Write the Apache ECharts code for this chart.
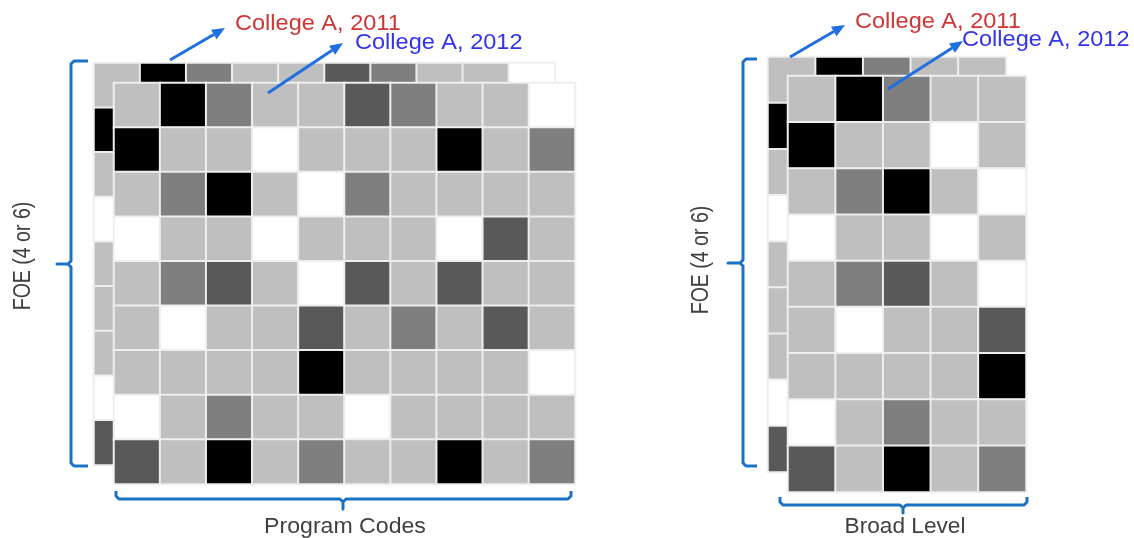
<!DOCTYPE html>
<html><head><meta charset="utf-8">
<script src="https://cdn.jsdelivr.net/npm/echarts@6/dist/echarts.min.js"></script>
<style>html,body{margin:0;padding:0;background:#fff}#c{width:1134px;height:538px}</style>
</head><body><div id="c"></div>
<script>
// shade levels: 0 white, 1 light grey, 2 mid grey, 3 dark grey, 4 black
const programCodes = ['P1','P2','P3','P4','P5','P6','P7','P8','P9','P10'];
const broadLevels = ['B1','B2','B3','B4','B5'];
const foeRows = ['F1','F2','F3','F4','F5','F6','F7','F8','F9'];

const program2012 = [
  [1,4,2,1,1,3,2,1,1,0],
  [4,1,1,0,1,1,1,4,1,2],
  [1,2,4,1,0,2,1,1,1,1],
  [0,1,1,0,1,1,1,0,3,1],
  [1,2,3,1,0,3,1,3,1,1],
  [1,0,1,1,3,1,2,1,3,1],
  [1,1,1,1,4,1,1,1,1,0],
  [0,1,2,1,1,0,1,1,1,1],
  [3,1,4,1,2,1,1,4,1,2]
];
// 2011 layer: only the top row and left column are visible
const program2011Top = [1,4,2,1,1,3,2,1,1,0];
const program2011Left = [1,4,1,0,1,1,1,0,3];

const broad2012 = [
  [1,4,2,1,1],
  [4,1,1,0,1],
  [1,2,4,1,0],
  [0,1,1,0,1],
  [1,2,3,1,0],
  [1,0,1,1,3],
  [1,1,1,1,4],
  [0,1,2,1,1],
  [3,1,4,1,2]
];
const broad2011Top = [1,4,2,1,1];
const broad2011Left = [1,4,1,0,1,1,1,0,3];

const shadeColors = ['#ffffff','#bfbfbf','#7f7f7f','#595959','#000000'];

function fullData(m){const d=[];m.forEach((row,r)=>row.forEach((v,c)=>d.push([c,r,v])));return d;}
function edgeData(top,left){const d=[];top.forEach((v,c)=>d.push([c,0,v]));left.forEach((v,r)=>{if(r>0)d.push([0,r,v]);});return d;}

const grids=[
  {left:94,top:63,width:461,height:402},
  {left:114,top:83,width:461,height:401},
  {left:768,top:57,width:238,height:415},
  {left:788,top:76,width:238,height:416}
];
const xCats=[programCodes,programCodes,broadLevels,broadLevels];
const seriesData=[
  edgeData(program2011Top,program2011Left),
  fullData(program2012),
  edgeData(broad2011Top,broad2011Left),
  fullData(broad2012)
];

const chart=echarts.init(document.getElementById('c'),null,{renderer:'canvas'});

const blueArrow='#1f6fe0', bracket='#1a72c4', labelCol='#404040';
function arrow(x1,y1,x2,y2){
  const a=Math.atan2(y2-y1,x2-x1),L=13,W=5.5;
  const bx=x2-L*Math.cos(a),by=y2-L*Math.sin(a);
  const px=-Math.sin(a)*W,py=Math.cos(a)*W;
  return [
    {type:'line',shape:{x1:x1,y1:y1,x2:bx,y2:by},style:{stroke:blueArrow,lineWidth:3},z:100},
    {type:'polygon',shape:{points:[[x2,y2],[bx+px,by+py],[bx-px,by-py]]},style:{fill:blueArrow},z:100}
  ];
}
function vBracket(x,y1,y2,hookX,midY,tipX){
  return {type:'polyline',shape:{points:[[hookX,y1],[x+3,y1],[x,y1+3],[x,midY-3],[x-3,midY],[tipX,midY],[x-3,midY],[x,midY+3],[x,y2-3],[x+3,y2],[hookX,y2]]},
    style:{stroke:bracket,lineWidth:3,fill:null,lineJoin:'round'},z:100};
}
function hBracket(y,x1,x2,hookY,midX,tipY){
  return {type:'polyline',shape:{points:[[x1,hookY],[x1,y-3],[x1+3,y],[midX-3,y],[midX,y+3],[midX,tipY],[midX,y+3],[midX+3,y],[x2-3,y],[x2,y-3],[x2,hookY]]},
    style:{stroke:bracket,lineWidth:3,fill:null,lineJoin:'round'},z:100};
}
function txt(t,x,y,color,size,align,sx,rot){
  return {type:'text',x:x,y:y,rotation:rot||0,scaleX:sx||1,z:110,
    style:{text:t,fill:color,font:size+'px "Liberation Sans", Arial, sans-serif',textAlign:align,textVerticalAlign:'middle'}};
}

const graphic=[].concat(
  arrow(170,60,225,28), arrow(268,93,343,43),
  arrow(790,57,845,25), arrow(888,89,963,41),
  [
    vBracket(71,61,466,88,264,57),
    hBracket(499,116,571,491,343,509),
    vBracket(743,59,466,757,263,728),
    hBracket(505,780,1027,497,903,513),
    txt('College A, 2011',235,24,'#d03535',22,'left',1.07),
    txt('College A, 2012',355,43,'#3333ee',22,'left',1.07),
    txt('College A, 2011',855,22,'#d03535',22,'left',1.07),
    txt('College A, 2012',962,40,'#3333ee',22,'left',1.07),
    txt('Program Codes',345,527,labelCol,22,'center',1.05),
    txt('Broad Level',905,527,labelCol,22,'center',1.03),
    txt('FOE (4 or 6)',24,256,labelCol,23,'center',0.85,Math.PI/2),
    txt('FOE (4 or 6)',702,260,labelCol,23,'center',0.85,Math.PI/2)
  ]
);

chart.setOption({
  animation:false,
  backgroundColor:'#ffffff',
  grid:grids,
  xAxis:grids.map((g,i)=>({type:'category',gridIndex:i,data:xCats[i],show:false})),
  yAxis:grids.map((g,i)=>({type:'category',gridIndex:i,data:foeRows,inverse:true,show:false})),
  visualMap:{type:'piecewise',show:false,dimension:2,seriesIndex:[0,1,2,3],
    pieces:shadeColors.map((c,i)=>({value:i,color:c}))},
  series:seriesData.map((d,i)=>({
    type:'heatmap',xAxisIndex:i,yAxisIndex:i,data:d,z:i%2===0?1:5,
    itemStyle:{borderColor:'#eeeeee',borderWidth:2},
    emphasis:{disabled:true},silent:true
  })),
  graphic:graphic
});
</script></body></html>
